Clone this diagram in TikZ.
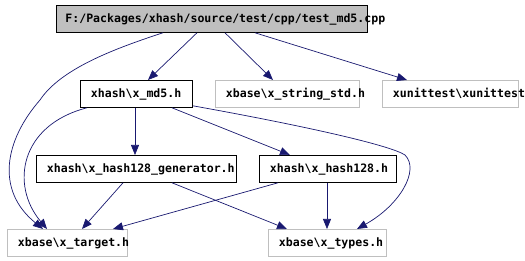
\documentclass[tikz,border=0pt]{standalone}
\usepackage{fontspec}
\newfontfamily\dxfont{DejaVu Sans Mono}
\usetikzlibrary{arrows.meta,calc}
\definecolor{edgeblue}{HTML}{191970}
\definecolor{boxgrey}{HTML}{BFBFBF}
\tikzset{
  filebox/.style={draw=black, line width=0.8pt, rectangle, anchor=north west,
    minimum height=27pt, inner xsep=10.5pt, inner ysep=0pt, align=left,
    font=\dxfont\bfseries\fontsize{11.55}{13}\selectfont, text height=8.5pt, text depth=1.5pt},
  rootbox/.style={filebox, fill=boxgrey, inner xsep=9pt},
  extbox/.style={filebox, draw=boxgrey},
  dep/.style={edgeblue, line width=0.7pt, -{Triangle[length=10pt,width=8pt]}}
}
\begin{document}
\begin{tikzpicture}[x=1pt,y=-1pt]
\useasboundingbox (0,0) rectangle (525,261);

% file boxes
\node[rootbox, text width=293pt] (top) at (56,5) {F:/Packages/xhash/source/test/cpp/test\_md5.cpp};
\node[filebox, text width=91pt] (md5) at (80,80) {xhash\textbackslash x\_md5.h};
\node[extbox, text width=123pt] (strstd) at (215,80) {xbase\textbackslash x\_string\_std.h};
\node[extbox, text width=115pt] (unit) at (382,80) {xunittest\textbackslash xunittest};
\node[filebox, text width=179pt] (gen) at (36,155) {xhash\textbackslash x\_hash128\_generator.h};
\node[filebox, text width=116pt] (h128) at (259,155) {xhash\textbackslash x\_hash128.h};
\node[extbox, text width=99pt] (target) at (7,229) {xbase\textbackslash x\_target.h};
\node[extbox, text width=97pt] (types) at (268,229) {xbase\textbackslash x\_types.h};

% includes of the test file
\draw[dep] ($(top.south west)+(141,0)$) -- ($(md5.north west)+(68,0)$);
\draw[dep] ($(top.south west)+(169,0)$) -- ($(strstd.north west)+(58,0)$);
\draw[dep] ($(top.south west)+(199,0)$) -- ($(unit.north west)+(25,0)$);
\draw[dep] ($(top.south west)+(107,0)$) .. controls (110,50) and (60,70) .. (40,100)
  .. controls (5,140) and (-5,190) .. ($(target.north west)+(36,0)$);

% includes of x_md5.h
\draw[dep] ($(md5.south west)+(7,0)$) .. controls (20,125) and (10,185) .. ($(target.north west)+(40,0)$);
\draw[dep] ($(md5.south west)+(55,0)$) -- ($(gen.north west)+(99,0)$);
\draw[dep] ($(md5.south west)+(92,0)$) -- ($(h128.north west)+(31,0)$);
\draw[dep] ($(md5.south east)+(0,-2)$) .. controls (300,125) and (390,145) .. (405,155)
  .. controls (420,170) and (400,205) .. ($(types.north west)+(89,0)$);

% includes of x_hash128_generator.h
\draw[dep] ($(gen.south west)+(87,0)$) -- ($(target.north west)+(75,0)$);
\draw[dep] ($(gen.south west)+(136,0)$) -- ($(types.north west)+(19,0)$);

% includes of x_hash128.h
\draw[dep] ($(h128.south west)+(19,0)$) -- ($(target.north west)+(106,0)$);
\draw[dep] ($(h128.south west)+(68,0)$) -- ($(types.north west)+(59,0)$);
\end{tikzpicture}
\end{document}
